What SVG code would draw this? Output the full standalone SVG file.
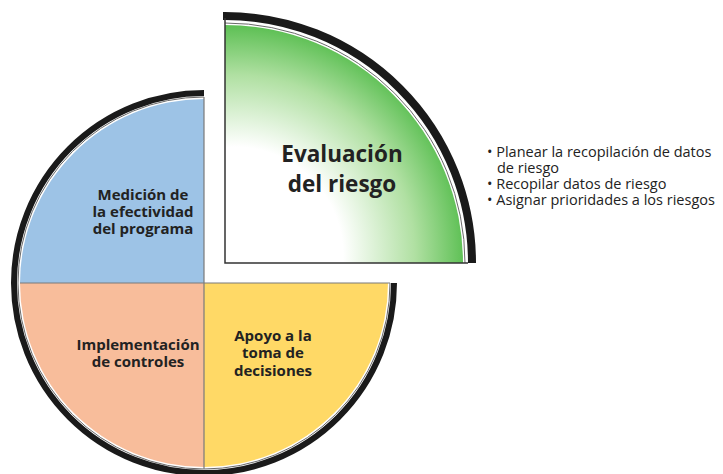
<svg xmlns="http://www.w3.org/2000/svg" width="723" height="474" viewBox="0 0 723 474">
<defs>
<radialGradient id="g" gradientUnits="userSpaceOnUse" cx="235" cy="255" r="240">
<stop offset="0" stop-color="#ffffff"/>
<stop offset="0.45" stop-color="#ffffff"/>
<stop offset="0.75" stop-color="#b0e0a2"/>
<stop offset="1" stop-color="#4cb944"/>
</radialGradient>
</defs>
<style>
.ring{fill:none;stroke:#1a1a1a}
.thin{fill:none;stroke:#6a6a6a;stroke-width:1}
.div{stroke:#7a7a7a;stroke-width:1.2;fill:none}
.lbl{font-family:"Open Sans","DejaVu Sans",sans-serif;font-weight:bold;fill:#222;text-anchor:middle}
.bul{font-family:"Open Sans","DejaVu Sans",sans-serif;fill:#222;font-size:14.5px}
</style>
<rect width="723" height="474" fill="#ffffff"/>
<g id="medicion">
<path d="M204 283 L20 283 A184 184 0 0 1 204 99 Z" fill="#9dc3e6"/>
<text class="lbl" font-size="15" x="143" y="200">Medición de</text>
<text class="lbl" font-size="15" x="143" y="217">la efectividad</text>
<text class="lbl" font-size="15" x="143" y="234">del programa</text>
</g>
<g id="implementacion">
<path d="M204 283 L204 467 A184 184 0 0 1 20 283 Z" fill="#f8bd9b"/>
<text class="lbl" font-size="15" x="138" y="350">Implementación</text>
<text class="lbl" font-size="15" x="138" y="367">de controles</text>
</g>
<g id="apoyo">
<path d="M204 283 L388 283 A184 184 0 0 1 204 467 Z" fill="#ffd966"/>
<text class="lbl" font-size="15" x="273" y="341">Apoyo a la</text>
<text class="lbl" font-size="15" x="273" y="358">toma de</text>
<text class="lbl" font-size="15" x="273" y="376">decisiones</text>
</g>
<g id="outline-main">
<path class="thin" d="M204 97 A186 186 0 1 0 390 283"/>
<path class="ring" stroke-width="6" d="M204 93 A190 190 0 1 0 394 283"/>
</g>
<g id="connectors">
<path class="div" d="M20 283 H390 M204 97 V469"/>
</g>
<g id="evaluacion">
<path d="M225 263 L225 25 A238 238 0 0 1 463 263 Z" fill="url(#g)"/>
<path class="thin" d="M225 23 A240 240 0 0 1 465 263"/>
<path class="ring" stroke-width="8" d="M223 16 L225 16 A247 247 0 0 1 472 263"/>
<path d="M225 18 V263 H468" fill="none" stroke="#333" stroke-width="1.5"/>
<text class="lbl" font-size="22.5" x="342" y="162">Evaluación</text>
<text class="lbl" font-size="22.5" x="342" y="192">del riesgo</text>
</g>
<g id="bullets">
<text class="bul" x="487" y="157">• Planear la recopilación de datos</text>
<text class="bul" x="497" y="173">de riesgo</text>
<text class="bul" x="487" y="189">• Recopilar datos de riesgo</text>
<text class="bul" x="487" y="205">• Asignar prioridades a los riesgos</text>
</g>
</svg>
